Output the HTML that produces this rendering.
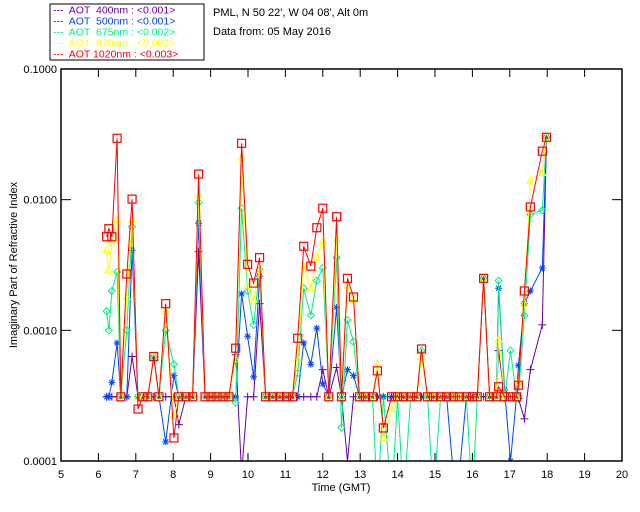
<!DOCTYPE html>
<html><head><meta charset="utf-8"><style>
html,body{margin:0;padding:0;background:#fff;}
svg{display:block;font-family:"Liberation Sans",sans-serif;}
</style></head><body>
<svg id="chart" width="640" height="512" viewBox="0 0 640 512" xmlns="http://www.w3.org/2000/svg">
<g font-size="10.5">
<rect x="50" y="4" width="154" height="56" fill="#fff" stroke="#000"/>
<g><text x="53" y="13.5" fill="#6600aa" xml:space="preserve">---  AOT  400nm : &lt;0.001&gt;</text></g>
<g><text x="53" y="24.5" fill="#0044ff" xml:space="preserve">---  AOT  500nm : &lt;0.001&gt;</text></g>
<g><text x="53" y="35.5" fill="#00ee88" xml:space="preserve">---  AOT  675nm : &lt;0.002&gt;</text></g>
<g><text x="53" y="46.5" fill="#ffff00" xml:space="preserve">---  AOT  870nm : &lt;0.002&gt;</text></g>
<g><text x="53" y="57.5" fill="#ff0000" xml:space="preserve">---  AOT 1020nm : &lt;0.003&gt;</text></g>
</g>
<text x="213" y="16" font-size="11">PML, N 50 22', W 04 08', Alt 0m</text>
<text x="213" y="35" font-size="11">Data from: 05 May 2016</text>
<defs><clipPath id="plotclip"><rect x="61" y="69" width="561" height="392"/></clipPath></defs>
<g id="axes"></g>
<g id="series" clip-path="url(#plotclip)"></g>
<rect x="61" y="69" width="561" height="392" fill="none" stroke="#000" stroke-width="1.5"/>
<text x="341" y="491" font-size="11" text-anchor="middle">Time (GMT)</text>
<text transform="translate(17,265) rotate(-90)" font-size="11" text-anchor="middle">Imaginary Part of Refractive Index</text>
</svg>
<script>
const B = 3.1e-4;
const xTicks = [5,6,7,8,9,10,11,12,13,14,15,16,17,18,19,20];
const yTicks = [0.0001,0.001,0.01,0.1];
const yTickLabels = ["0.0001","0.0010","0.0100","0.1000"];
const times = [6.22,6.28,6.36,6.50,6.60,6.76,6.90,7.06,7.19,7.32,7.48,7.62,7.80,8.02,8.15,8.34,8.52,8.68,8.85,9.01,9.17,9.33,9.49,9.67,9.83,9.99,10.15,10.31,10.47,10.66,10.85,11.03,11.19,11.33,11.49,11.68,11.84,12.00,12.16,12.37,12.50,12.66,12.82,12.98,13.14,13.33,13.46,13.62,13.84,14.00,14.16,14.35,14.51,14.64,14.80,14.96,15.15,15.31,15.49,15.65,15.84,16.00,16.13,16.30,16.46,16.64,16.70,16.86,17.02,17.18,17.23,17.39,17.55,17.87,17.98];
const aot400 = [B,B,B,B,B,B,0.00063,B,B,B, B,B,B,B,0.00019,B,B,0.0040,B,B, B,B,B,0.00065,0.00008,B,B,0.0016,B,B, B,B,B,B,B,B,B,0.0005,B,0.00052, B,0.0001,B,B,B,B,B,B,B,B, B,B,B,B,B,B,B,B,B,B, B,B,B,B,B,B,0.0007,B,B,B, 0.0003,0.00021,0.0005,0.0011,0.030];
const aot500 = [B,B,0.0004,0.0008,B,B,0.0041,B,B,B, 0.00062,B,0.00014,0.00045,B,B,B,0.0066,B,B, B,B,B,B,0.0019,0.0009,0.00044,0.0026,B,B, B,B,B,B,0.0008,0.00055,0.00104,0.00039,B,0.0015, B,0.0005,0.00045,B,B,B,B,B,B,B, B,B,B,B,B,B,B,B,0.00008,0.00008, B,B,B,0.0025,B,B,0.0021,0.00035,0.0001,B, 0.00054,0.0016,0.0020,0.0030,0.030];
const aot675 = [0.0014,0.0010,0.0020,0.0028,B,0.0010,0.0062,B,B,B, 0.00062,B,0.0010,0.00055,B,B,B,0.0095,B,B, B,B,B,0.00028,0.0086,0.0020,0.0011,0.0029,B,B, B,B,B,0.00047,0.0021,0.0013,0.0024,0.0030,B,0.0036, 0.00018,0.0012,0.00082,B,B,B,0.00005,B,0.00005,B, 0.00005,B,B,0.0007,B,0.00005,B,B,B,B, B,0.00005,B,0.0025,B,B,0.0024,0.0003,0.0007,B, B,0.0013,0.0077,0.0083,0.030];
const aot870 = [0.0041,0.0029,0.0047,0.0070,B,0.0018,0.0070,B,B,B, 0.00062,B,0.0014,0.00022,B,B,B,0.0108,B,B, B,B,B,0.0006,0.021,0.0022,0.0017,0.0029,B,B, B,B,B,0.0006,0.0031,0.0021,0.0036,0.0048,B,0.0050, B,0.0022,0.0017,B,B,B,0.00055,0.00015,0.00025,B, B,B,B,0.00063,B,B,B,B,B,B, B,B,B,0.0025,B,B,0.00085,B,B,B, 0.0004,0.0016,0.014,0.016,0.030];
const aot1020 = [0.0052,0.0060,0.0052,0.0295,B,0.0027,0.0101,0.00025,B,B, 0.00063,B,0.0016,0.00015,B,B,B,0.0157,B,B, B,B,B,0.00073,0.027,0.0032,0.0023,0.0036,B,B, B,B,B,0.00087,0.0044,0.0031,0.0061,0.0086,B,0.0074, B,0.0025,0.0018,B,B,B,0.00049,0.000179,B,B, B,B,B,0.00072,B,B,B,B,B,B, B,B,B,0.0025,B,B,0.00037,B,B,B, 0.00038,0.0020,0.0088,0.0235,0.030];

const NS="http://www.w3.org/2000/svg";
const X0=61,X1=622,Y0=461,Y1=69;
function xs(h){return X0+(h-5)/(20-5)*(X1-X0);}
function ys(v){return Y0-(Math.log10(v)+4)/3*(Y0-Y1);}
function mk(tag,attrs,parent){const e=document.createElementNS(NS,tag);for(const k in attrs)e.setAttribute(k,attrs[k]);parent.appendChild(e);return e;}
const axes=document.getElementById('axes');
xTicks.forEach(function(t){
  const g=mk('g',{},axes);
  
  
  const x=xs(t);
  mk('line',{x1:x,y1:Y0,x2:x,y2:Y0-8,stroke:'#000'},g);
  mk('line',{x1:x,y1:Y1,x2:x,y2:Y1+8,stroke:'#000'},g);
  const tx=mk('text',{x:x,y:Y0+17,'font-size':11,'text-anchor':'middle'},g);
  tx.textContent=String(t);
});
yTicks.forEach(function(t,i){
  const g=mk('g',{},axes);
  
  
  const y=ys(t);
  mk('line',{x1:X0,y1:y,x2:X0+10,y2:y,stroke:'#000'},g);
  mk('line',{x1:X1,y1:y,x2:X1-10,y2:y,stroke:'#000'},g);
  const tx=mk('text',{x:X0-4,y:y+4,'font-size':11,'text-anchor':'end'},g);
  tx.textContent=yTickLabels[i];
});
const seriesLayer=document.getElementById('series');
function marker(g,type,x,y,c){
  if(type==='plus'){mk('path',{d:'M'+(x-4)+' '+y+'H'+(x+4)+'M'+x+' '+(y-4)+'V'+(y+4),stroke:c,fill:'none'},g);}
  else if(type==='star'){mk('path',{d:'M'+(x-3.5)+' '+y+'H'+(x+3.5)+'M'+x+' '+(y-3.5)+'V'+(y+3.5)+'M'+(x-2.5)+' '+(y-2.5)+'L'+(x+2.5)+' '+(y+2.5)+'M'+(x-2.5)+' '+(y+2.5)+'L'+(x+2.5)+' '+(y-2.5),stroke:c,fill:'none'},g);}
  else if(type==='diamond'){mk('path',{d:'M'+x+' '+(y-3.5)+'L'+(x+3.5)+' '+y+'L'+x+' '+(y+3.5)+'L'+(x-3.5)+' '+y+'Z',stroke:c,fill:'none'},g);}
  else if(type==='tri'){mk('path',{d:'M'+x+' '+(y-3.5)+'L'+(x+3.5)+' '+(y+2.5)+'L'+(x-3.5)+' '+(y+2.5)+'Z',stroke:c,fill:'none'},g);}
  else {mk('rect',{x:x-4,y:y-4,width:8,height:8,stroke:c,fill:'none','stroke-width':1.2},g);}
}
function drawSeries(vals,color,type,name){
  const g=mk('g',{},seriesLayer);
  
  
  const pts=vals.map(function(v,i){return xs(times[i]).toFixed(1)+','+ys(v).toFixed(1);}).join(' ');
  const pl=mk('polyline',{points:pts,fill:'none',stroke:color,'stroke-width':1},g);
  
  
  vals.forEach(function(v,i){marker(g,type,xs(times[i]),ys(v),color);});
}
drawSeries(aot400,'#6600aa','plus','series-400nm');
drawSeries(aot500,'#0044ff','star','series-500nm');
drawSeries(aot675,'#00ee88','diamond','series-675nm');
drawSeries(aot870,'#ffff00','tri','series-870nm');
drawSeries(aot1020,'#ff0000','square','series-1020nm');
</script>
</body></html>
